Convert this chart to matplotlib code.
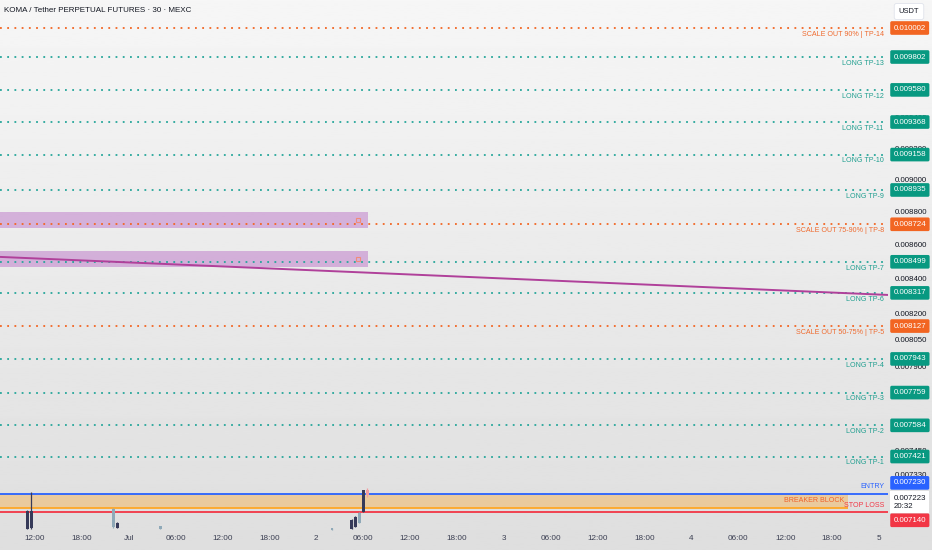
import matplotlib
matplotlib.use('Agg')
import numpy as np
import pandas as pd
import matplotlib.pyplot as plt
import matplotlib.dates as mdates
import matplotlib.transforms as mtransforms
from matplotlib.ticker import FixedLocator, FuncFormatter, NullLocator

plt.rcParams['font.family'] = ['Liberation Sans', 'DejaVu Sans']

# 30 min candles
candle_times = ['2025-06-30 11:00', '2025-06-30 11:30', '2025-06-30 22:00', '2025-06-30 22:30',
                '2025-07-01 04:00', '2025-07-02 02:00', '2025-07-02 04:30', '2025-07-02 05:00',
                '2025-07-02 05:30', '2025-07-02 06:00', '2025-07-02 06:30']
opens = [0.007056, 0.007060, 0.007155, 0.007061, 0.007070, 0.007060, 0.007056, 0.007066, 0.007136, 0.007141, 0.007250]
highs = [0.007150, 0.007240, 0.007160, 0.007088, 0.007072, 0.007061, 0.007104, 0.007118, 0.007140, 0.007252, 0.007258]
lows = [0.007054, 0.007056, 0.007061, 0.007059, 0.007057, 0.007051, 0.007054, 0.007064, 0.007084, 0.007138, 0.007215]
closes = [0.007146, 0.007146, 0.007065, 0.007086, 0.007058, 0.007052, 0.007101, 0.007116, 0.007086, 0.007250, 0.007223]

# take profit levels
tp_prices = [0.010002, 0.009802, 0.009580, 0.009368, 0.009158, 0.008935, 0.008724,
             0.008499, 0.008317, 0.008127, 0.007943, 0.007759, 0.007584, 0.007421]
tp_labels = ['SCALE OUT 90% | TP-14', 'LONG TP-13', 'LONG TP-12', 'LONG TP-11', 'LONG TP-10',
             'LONG TP-9', 'SCALE OUT 75-90% | TP-8', 'LONG TP-7', 'LONG TP-6',
             'SCALE OUT 50-75% | TP-5', 'LONG TP-4', 'LONG TP-3', 'LONG TP-2', 'LONG TP-1']

entry_price = 0.007230
stop_price = 0.007140
breaker_low = 0.007160
breaker_end = '2025-07-04 20:00'
current_price = 0.007223
countdown = '20:32'

zone_top = [0.008799, 0.008563]
zone_bottom = [0.008702, 0.008468]
zone_start = '2025-06-29 00:00'
zone_end = '2025-07-02 06:35'

trend_times = ['2025-06-30 07:30', '2025-07-05 01:10']
trend_prices = [0.008528, 0.008305]

y_ticks = [0.0100, 0.0098, 0.0096, 0.0094, 0.0092, 0.0090, 0.0088, 0.0086, 0.0084, 0.0082,
           0.00805, 0.0079, 0.00745, 0.00733]

title = 'KOMA / Tether PERPETUAL FUTURES · 30 · MEXC'

TEAL = '#089981'
TEAL_TXT = '#1f9e8f'
ORANGE = '#f26522'
BLUE = '#2962ff'
RED = '#f23645'
DARK = '#131722'
BOX_FS = 5.7
LAB_FS = 5.1

fig = plt.figure(figsize=(9.32, 5.5), dpi=100)
bg = fig.add_axes([0, 0, 1, 1], zorder=-10)
grad = np.linspace(0.965, 0.872, 256).reshape(-1, 1)
bg.imshow(grad, aspect='auto', cmap='gray', vmin=0, vmax=1, extent=[0, 1, 0, 1], origin='upper')
bg.axis('off')

ax = fig.add_axes([0, 18 / 550, 888 / 932, 532 / 550])
ax.patch.set_alpha(0)
for s in ax.spines.values():
    s.set_visible(False)

t = mdates.date2num(pd.to_datetime(candle_times))
o = np.array(opens)
h = np.array(highs)
l = np.array(lows)
c = np.array(closes)
w = 0.75 / 48
up = c >= o
col = np.where(up, '#363a59', '#8fa9b8')
col[-1] = '#f29ca0'
ax.vlines(t, l, h, colors=col, lw=0.9, zorder=4)
ax.bar(t, np.abs(c - o), bottom=np.minimum(o, c), width=w, color=col, zorder=4)

ax.set_yscale('log')
x0 = mdates.date2num(pd.Timestamp('2025-06-30 07:31'))
x1 = mdates.date2num(pd.Timestamp('2025-07-05 01:09'))
ax.set_xlim(x0, x1)
ax.set_ylim(0.007041, 0.010199)

# purple zones
zs = mdates.date2num(pd.Timestamp(zone_start))
ze = mdates.date2num(pd.Timestamp(zone_end))
for top, bot in zip(zone_top, zone_bottom):
    ax.fill_between([zs, ze], bot, top, color='#9c27b0', alpha=0.3, lw=0, zorder=1)
    ax.plot(ze - 0.05, np.sqrt(top * bot), marker='s', ms=3.5, mfc='none', mec='#f08c7a', mew=0.8, zorder=2)

# trend line
tt = mdates.date2num(pd.to_datetime(trend_times))
ax.plot(tt, trend_prices, color='#b0409a', lw=1.4, zorder=3)

trans = mtransforms.blended_transform_factory(ax.transAxes, ax.transData)
box_style = 'round,pad=0.42,rounding_size=0.2'


def price_box(price, fc, dy=0.0, text=None, tc='white', style=box_style):
    ax.annotate(text or '%.6f' % price, xy=(1, price), xycoords=trans, xytext=(4.0, dy),
                textcoords='offset points', ha='left', va='center', color=tc, fontsize=BOX_FS,
                linespacing=1.2, annotation_clip=False, zorder=10,
                bbox=dict(boxstyle=style, fc=fc, ec='none'))


for p, lab in zip(tp_prices, tp_labels):
    scale = lab.startswith('SCALE')
    lc = ORANGE if scale else '#26a69a'
    tc = '#ef6a2e' if scale else TEAL_TXT
    ax.axhline(p, color=lc, lw=1.3, ls=(0, (1, 3)), zorder=2)
    ax.annotate(lab, xy=(1, p), xycoords=trans, xytext=(-3, -2.0), textcoords='offset points',
                ha='right', va='top', color=tc, fontsize=LAB_FS, zorder=5)
    price_box(p, ORANGE if scale else TEAL)

# breaker block, entry and stop
be = mdates.date2num(pd.Timestamp(breaker_end))
ax.fill_between([zs, be], breaker_low, entry_price, color='#ff9800', alpha=0.3, lw=0, zorder=1)
ax.hlines(breaker_low, zs, be, color='#ffa726', lw=1.3, zorder=2)
ax.axhline(entry_price, color=BLUE, lw=1.3, zorder=3)
ax.axhline(stop_price, color=RED, lw=1.3, zorder=3)
ax.annotate('BREAKER BLOCK', xy=(be, np.sqrt(entry_price * breaker_low)), xytext=(-2.5, 0),
            textcoords='offset points', ha='right', va='center', color='#f0622a', fontsize=LAB_FS, zorder=5)
ax.annotate('ENTRY', xy=(1, entry_price), xycoords=trans, xytext=(-2.5, 2.5), textcoords='offset points',
            ha='right', va='bottom', color=BLUE, fontsize=LAB_FS, zorder=5)
ax.annotate('STOP LOSS', xy=(1, stop_price), xycoords=trans, xytext=(-2.5, 2.0), textcoords='offset points',
            ha='right', va='bottom', color=RED, fontsize=LAB_FS, zorder=5)

price_box(entry_price, BLUE, dy=8.0)
price_box(current_price, 'white', dy=-4.8, text='%.6f\n%s' % (current_price, countdown), tc=DARK,
          style='square,pad=0.42')
price_box(stop_price, RED, dy=-6.0)

# price scale
ax.yaxis.tick_right()
ax.yaxis.set_major_locator(FixedLocator(y_ticks))
ax.yaxis.set_minor_locator(NullLocator())
ax.yaxis.set_major_formatter(FuncFormatter(lambda v, pos: '%.6f' % v))
ax.tick_params(axis='y', length=0, pad=5.0, labelsize=BOX_FS, labelcolor=DARK)

# time scale
ticks = pd.date_range('2025-06-30 12:00', '2025-07-05 00:00', freq='6h')


def fmt_time(v, pos):
    d = mdates.num2date(v)
    if d.hour == 0:
        return 'Jul' if d.day == 1 else str(d.day)
    return d.strftime('%H:%M')


ax.xaxis.set_major_locator(FixedLocator(mdates.date2num(ticks)))
ax.xaxis.set_minor_locator(NullLocator())
ax.xaxis.set_major_formatter(FuncFormatter(fmt_time))
ax.tick_params(axis='x', length=0, pad=2.5, labelsize=5.9, labelcolor='#3b3f52')

fig.text(4 / 932, 1 - 11 / 550, title, fontsize=5.8, color=DARK, va='center', ha='left')
fig.text(909 / 932, 1 - 11.5 / 550, 'USDT', fontsize=5.4, color=DARK, va='center', ha='center',
         bbox=dict(boxstyle='round,pad=0.6,rounding_size=0.3', fc='white', ec='#e0e3eb', lw=0.6))

fig.savefig('out.png', dpi=100)
